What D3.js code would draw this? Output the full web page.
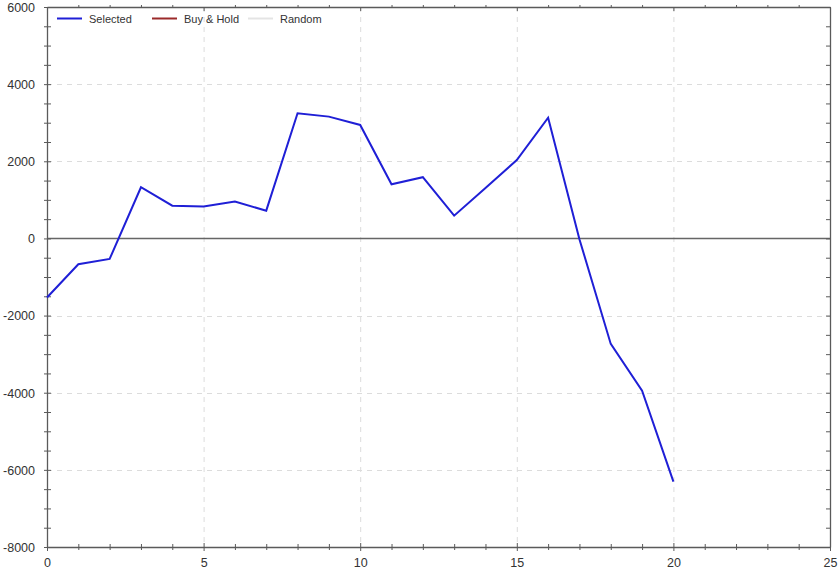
<!DOCTYPE html>
<html><head><meta charset="utf-8">
<script src="https://cdnjs.cloudflare.com/ajax/libs/d3/7.8.5/d3.min.js"></script>
<style>body{margin:0;background:#fff}svg{display:block}text{font-family:Arial,"Liberation Sans",sans-serif}</style>
</head><body><svg id="c" width="840" height="571"></svg>
<script>
const xValues = [0,1,2,3,4,5,6,7,8,9,10,11,12,13,14,15,16,17,18,19,20];
const selected = [-1530,-670,-532,1327,850,825,954,720,3245,3158,2943,1405,1587,591,1310,2032,3130,-20,-2735,-3946,-6305];
const xTicks = [0,5,10,15,20,25];
const yTicks = [-8000,-6000,-4000,-2000,0,2000,4000,6000];
const legendNames = ["Selected","Buy & Hold","Random"];
const legendColors = ["#1f1fd6","#9b2a2a","#e4e4e4"];

const svg = d3.select("#c");
const L=47,R=830,T=7,B=547;
const x = d3.scaleLinear().domain([0,25]).range([L,R]);
const y = d3.scaleLinear().domain([-8000,6000]).range([B,T]);
const axisCol="#5a5a5a";

// gridlines
const g = svg.append("g");
g.selectAll(".gx").data(xTicks.filter(d=>d>0&&d<25)).enter().append("line")
 .attr("x1",d=>x(d)+0.5).attr("x2",d=>x(d)+0.5).attr("y1",T).attr("y2",B)
 .attr("stroke","#dcdcdc").attr("stroke-dasharray","5,5");
g.selectAll(".gy").data(yTicks.filter(d=>d>-8000&&d<6000&&d!==0)).enter().append("line")
 .attr("y1",d=>Math.round(y(d))+0.5).attr("y2",d=>Math.round(y(d))+0.5).attr("x1",L).attr("x2",R)
 .attr("stroke","#dcdcdc").attr("stroke-dasharray","5,5");
// zero line
svg.append("line").attr("x1",L).attr("x2",R).attr("y1",Math.round(y(0))+0.5).attr("y2",Math.round(y(0))+0.5)
 .attr("stroke","#666").attr("stroke-width",1.3);

// axes
const fmt = d => String(d);
const axL = d3.axisLeft(y).tickValues(d3.range(-8000,6001,500)).tickSize(0).tickFormat("");
const gl = svg.append("g").attr("transform",`translate(${L},0)`).call(axL);
gl.select(".domain").attr("stroke",axisCol).attr("stroke-width",1.3);
gl.selectAll(".tick line").attr("x1",-3).attr("x2",4).attr("stroke",axisCol);
gl.selectAll(".tick").filter(d=>d%2000===0).append("text").attr("x",-12).attr("dy","0.35em")
 .attr("text-anchor","end").attr("fill","#333").attr("font-size",12.5).text(d=>fmt(d));

const axR = d3.axisRight(y).tickValues(d3.range(-8000,6001,500)).tickSize(0).tickFormat("");
const gr = svg.append("g").attr("transform",`translate(${R},0)`).call(axR);
gr.select(".domain").attr("stroke",axisCol).attr("stroke-width",1.3);
gr.selectAll(".tick line").attr("x1",-4).attr("x2",0).attr("stroke",axisCol);

const axB = d3.axisBottom(x).tickValues(d3.range(0,26,1)).tickSize(0).tickFormat("");
const gb = svg.append("g").attr("transform",`translate(0,${B})`).call(axB);
gb.select(".domain").attr("stroke",axisCol).attr("stroke-width",1.3);
gb.selectAll(".tick line").attr("y1",d=>d%5===0?-4:-3).attr("y2",d=>d%5===0?4:3).attr("stroke",axisCol);
gb.selectAll(".tick").filter(d=>xTicks.includes(d)).append("text").attr("y",20)
 .attr("text-anchor","middle").attr("fill","#333").attr("font-size",12.5).text(d=>fmt(d));

const axT = d3.axisTop(x).tickValues(d3.range(0,26,1)).tickSize(0).tickFormat("");
const gt = svg.append("g").attr("transform",`translate(0,${T})`).call(axT);
gt.select(".domain").attr("stroke",axisCol).attr("stroke-width",1.3);
gt.selectAll(".tick line").attr("y1",0).attr("y2",d=>d%5===0?4:-2).attr("stroke",axisCol);

// series
const line = d3.line().x((d,i)=>x(xValues[i])).y(d=>y(d));
svg.append("path").datum(selected).attr("d",line).attr("fill","none")
 .attr("stroke",legendColors[0]).attr("stroke-width",2).attr("stroke-linejoin","miter");

// legend
const lx=[57,152,248];
legendNames.forEach((n,i)=>{
  svg.append("line").attr("x1",lx[i]).attr("x2",lx[i]+25).attr("y1",18.5).attr("y2",18.5)
   .attr("stroke",legendColors[i]).attr("stroke-width",2);
  svg.append("text").attr("x",lx[i]+32).attr("y",22.5).attr("font-size",11).attr("fill","#333").text(n);
});
</script></body></html>
